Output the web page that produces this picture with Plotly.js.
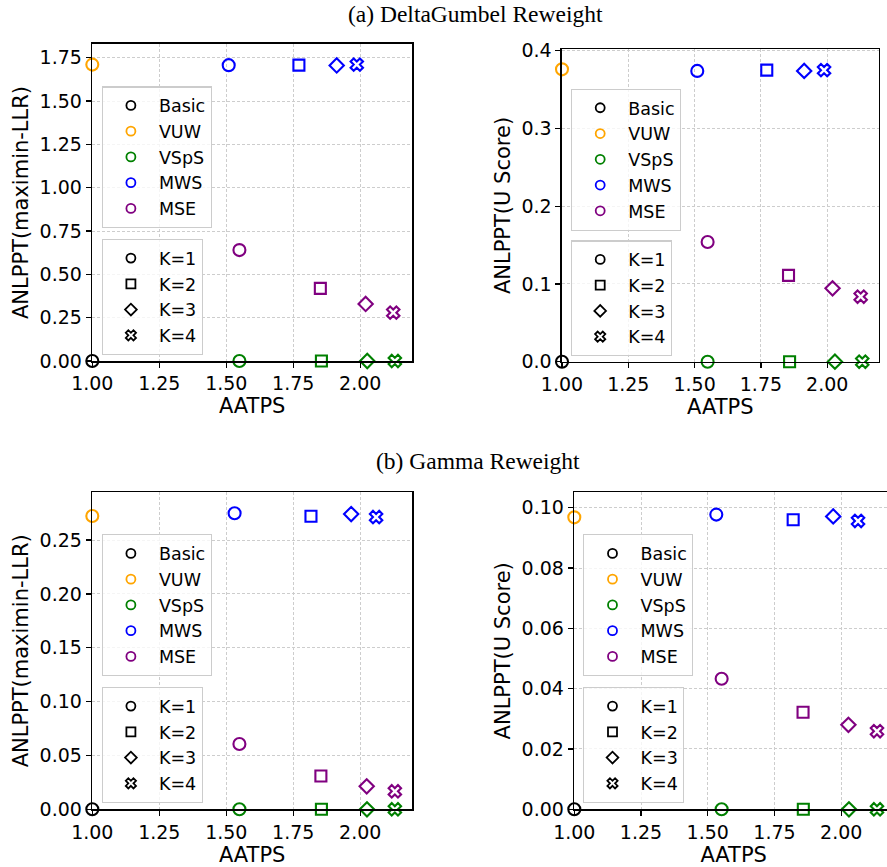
<!DOCTYPE html>
<html>
<head>
<meta charset="utf-8">
<script src="https://cdn.plot.ly/plotly-3.0.1.min.js"></script>
<style>
html, body { margin: 0; padding: 0; overflow: hidden; background: #fff; }
#chart { width: 900px; height: 867px; }
</style>
</head>
<body>
<div id="chart"></div>
<script>
// ---------- data ----------
const methodNames = ['Basic', 'VUW', 'VSpS', 'MWS', 'MSE'];
const methodColors = ['#000000', '#FFA500', '#008000', '#0000FF', '#800080'];
const kNames = ['K=1', 'K=2', 'K=3', 'K=4'];
const kSymbols = ['circle-open', 'square-open', 'diamond-open', 'x-open'];
const sectionTitles = ['(a) DeltaGumbel Reweight', '(b) Gamma Reweight'];
const xTitle = 'AATPS';
const yTitles = ['ANLPPT(maximin-LLR)', 'ANLPPT(U Score)'];
const xTickVals = [1.00, 1.25, 1.50, 1.75, 2.00];

// (a) DeltaGumbel, maximin-LLR
const dgLlrBasicX = [1.0];  const dgLlrBasicY = [0];
const dgLlrVuwX = [1.0];    const dgLlrVuwY = [1.71];
const dgLlrVspsX = [1.549, 1.855, 2.026, 2.129]; const dgLlrVspsY = [0, 0, 0, 0];
const dgLlrMwsX = [1.509, 1.771, 1.912, 1.987];  const dgLlrMwsY = [1.707, 1.707, 1.705, 1.710];
const dgLlrMseX = [1.549, 1.851, 2.020, 2.123];  const dgLlrMseY = [0.640, 0.419, 0.329, 0.279];

// (a) DeltaGumbel, U Score
const dgUBasicX = [1.0];  const dgUBasicY = [0];
const dgUVuwX = [1.0];    const dgUVuwY = [0.376];
const dgUVspsX = [1.549, 1.858, 2.029, 2.132]; const dgUVspsY = [0, 0, 0, 0];
const dgUMwsX = [1.510, 1.772, 1.913, 1.988];  const dgUMwsY = [0.374, 0.375, 0.374, 0.375];
const dgUMseX = [1.549, 1.854, 2.020, 2.126];  const dgUMseY = [0.154, 0.111, 0.0944, 0.0836];

// (b) Gamma, maximin-LLR
const gLlrBasicX = [1.0];  const gLlrBasicY = [0];
const gLlrVuwX = [1.0];    const gLlrVuwY = [0.2723];
const gLlrVspsX = [1.549, 1.855, 2.025, 2.129]; const gLlrVspsY = [0, 0, 0, 0];
const gLlrMwsX = [1.531, 1.816, 1.966, 2.059];  const gLlrMwsY = [0.2748, 0.2720, 0.2741, 0.2713];
const gLlrMseX = [1.549, 1.853, 2.024, 2.129];  const gLlrMseY = [0.0606, 0.0309, 0.0213, 0.0167];

// (b) Gamma, U Score
const gUBasicX = [1.0];  const gUBasicY = [0];
const gUVuwX = [1.0];    const gUVuwY = [0.0968];
const gUVspsX = [1.552, 1.858, 2.029, 2.134]; const gUVspsY = [0, 0, 0, 0];
const gUMwsX = [1.532, 1.820, 1.970, 2.063];  const gUMwsY = [0.0977, 0.0960, 0.0971, 0.0956];
const gUMseX = [1.552, 1.857, 2.027, 2.134];  const gUMseY = [0.0433, 0.0322, 0.0280, 0.0259];

const yTicksLlrA = [0, 0.25, 0.5, 0.75, 1.0, 1.25, 1.5, 1.75];
const yTicksUA = [0, 0.1, 0.2, 0.3, 0.4];
const yTicksLlrB = [0, 0.05, 0.10, 0.15, 0.20, 0.25];
const yTicksUB = [0, 0.02, 0.04, 0.06, 0.08, 0.10];

// ---------- panels ----------
const W = 900, H = 867;
const panels = [
  { ax: '', yTitle: yTitles[0], yTicks: yTicksLlrA, yFmt: '.2f', yMax: 1.829, xMax: 2.193,
    px: [92.3, 412], py: [44, 361], leg1: [101.7, 89.3], leg2: [101.7, 242],
    data: [[dgLlrBasicX, dgLlrBasicY], [dgLlrVuwX, dgLlrVuwY], [dgLlrVspsX, dgLlrVspsY], [dgLlrMwsX, dgLlrMwsY], [dgLlrMseX, dgLlrMseY]] },
  { ax: '2', yTitle: yTitles[1], yTicks: yTicksUA, yFmt: '.1f', yMax: 0.4018, xMax: 2.194,
    px: [562, 878.7], py: [49.3, 361.7], leg1: [571, 91.7], leg2: [571, 243.3],
    data: [[dgUBasicX, dgUBasicY], [dgUVuwX, dgUVuwY], [dgUVspsX, dgUVspsY], [dgUMwsX, dgUMwsY], [dgUMseX, dgUMseY]] },
  { ax: '3', yTitle: yTitles[0], yTicks: yTicksLlrB, yFmt: '.2f', yMax: 0.2943, xMax: 2.193,
    px: [92.3, 412], py: [492.3, 809.3], leg1: [101.7, 537.3], leg2: [101.7, 690],
    data: [[gLlrBasicX, gLlrBasicY], [gLlrVuwX, gLlrVuwY], [gLlrVspsX, gLlrVspsY], [gLlrMwsX, gLlrMwsY], [gLlrMseX, gLlrMseY]] },
  { ax: '4', yTitle: yTitles[1], yTicks: yTicksUB, yFmt: '.2f', yMax: 0.1051, xMax: 2.194,
    px: [574.3, 893], py: [492.3, 809.3], leg1: [583.3, 537.3], leg2: [583.3, 690],
    data: [[gUBasicX, gUBasicY], [gUVuwX, gUVuwY], [gUVspsX, gUVspsY], [gUMwsX, gUMwsY], [gUMseX, gUMseY]] }
];

const FONT = 'DejaVu Sans, sans-serif';
const traces = [];
const layout = {
  width: W, height: H,
  margin: { l: 0, r: 0, t: 0, b: 0 },
  paper_bgcolor: '#ffffff', plot_bgcolor: '#ffffff',
  showlegend: true,
  font: { family: FONT, size: 18, color: '#000' },
  annotations: [
    { text: sectionTitles[0], xref: 'paper', yref: 'paper', x: 476 / W, y: 1 - 14 / H,
      xanchor: 'center', yanchor: 'middle', showarrow: false,
      font: { family: 'Liberation Serif, Times New Roman, serif', size: 23.5, color: '#000' } },
    { text: sectionTitles[1], xref: 'paper', yref: 'paper', x: 478 / W, y: 1 - 461 / H,
      xanchor: 'center', yanchor: 'middle', showarrow: false,
      font: { family: 'Liberation Serif, Times New Roman, serif', size: 23.5, color: '#000' } }
  ]
};

const axisCommon = {
  showline: true, linecolor: '#000', linewidth: 1.6, mirror: true,
  ticks: 'outside', ticklen: 5, tickwidth: 1.3, tickcolor: '#000',
  showgrid: true, gridcolor: '#cdcdcd', gridwidth: 1, griddash: '3px,2px',
  zeroline: false, automargin: false,
  tickfont: { family: FONT, size: 19, color: '#000' }
};

panels.forEach((p, i) => {
  const xa = 'x' + p.ax, ya = 'y' + p.ax;
  const legA = 'legend' + (i === 0 ? '' : String(2 * i + 1));
  const legB = 'legend' + String(2 * i + 2);

  layout['xaxis' + p.ax] = Object.assign({}, axisCommon, {
    domain: [p.px[0] / W, p.px[1] / W], anchor: ya,
    range: [1.0, p.xMax], tickvals: xTickVals, tickformat: '.2f',
    title: { text: xTitle, font: { family: FONT, size: 21, color: '#000' }, standoff: 5 }
  });
  layout['yaxis' + p.ax] = Object.assign({}, axisCommon, {
    domain: [1 - p.py[1] / H, 1 - p.py[0] / H], anchor: xa,
    range: [0, p.yMax], tickvals: p.yTicks, tickformat: p.yFmt,
    title: { text: p.yTitle, font: { family: FONT, size: 21, color: '#000' }, standoff: 5 }
  });

  // data marks
  p.data.forEach((d, m) => {
    traces.push({
      type: 'scatter', mode: 'markers', x: d[0], y: d[1], xaxis: xa, yaxis: ya,
      showlegend: false, cliponaxis: false, hoverinfo: 'skip',
      marker: { symbol: d[0].map((_, k) => kSymbols[k]), size: d[0].map((_, k) => k === 0 ? 12 : 11),
                color: methodColors[m], opacity: 1, line: { width: 2.1, color: methodColors[m] } }
    });
  });

  // legend: methods
  methodNames.forEach((name, m) => {
    traces.push({
      type: 'scatter', mode: 'markers', x: [null], y: [null], xaxis: xa, yaxis: ya,
      name: name, legend: legA, showlegend: true, hoverinfo: 'skip',
      marker: { symbol: 'circle-open', size: 9, color: methodColors[m], line: { width: 1.8, color: methodColors[m] } }
    });
  });
  // legend: K values
  kNames.forEach((name, k) => {
    traces.push({
      type: 'scatter', mode: 'markers', x: [null], y: [null], xaxis: xa, yaxis: ya,
      name: name, legend: legB, showlegend: true, hoverinfo: 'skip',
      marker: { symbol: kSymbols[k], size: 9, color: '#000', line: { width: 1.8, color: '#000' } }
    });
  });

  const legStyle = {
    xref: 'paper', yref: 'paper', xanchor: 'left', yanchor: 'top',
    bgcolor: 'rgba(255,255,255,0.8)', bordercolor: '#cccccc', borderwidth: 1.2,
    font: { family: FONT, size: 17.5, color: '#000' }, itemwidth: 46, tracegroupgap: 0
  };
  layout[legA] = Object.assign({}, legStyle, { x: p.leg1[0] / W, y: 1 - (p.leg1[1] - 3) / H });
  layout[legB] = Object.assign({}, legStyle, { x: p.leg2[0] / W, y: 1 - (p.leg2[1] - 3) / H });
});

Plotly.newPlot('chart', traces, layout, { displayModeBar: false, staticPlot: true });
</script>
</body>
</html>
